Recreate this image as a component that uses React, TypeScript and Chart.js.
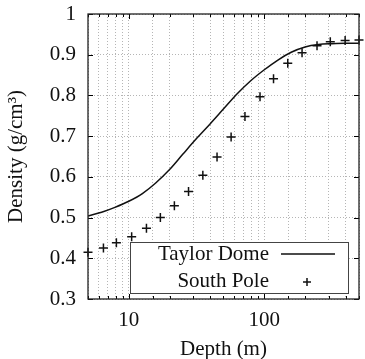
import { useEffect, useRef } from "react";
import { Chart, registerables } from "chart.js";

Chart.register(...registerables);

const seriesLabels = ["Taylor Dome", "South Pole"];
const taylorDepth = [5, 6.3, 7.9, 10, 12.6, 15.8, 20, 25.1, 31.6, 39.8, 50.1, 63.1, 79.4, 100, 126, 158, 200, 251, 316, 398, 500];
const taylorDensity = [0.504, 0.513, 0.525, 0.54, 0.559, 0.585, 0.618, 0.656, 0.694, 0.73, 0.767, 0.804, 0.836, 0.863, 0.887, 0.906, 0.919, 0.925, 0.927, 0.928, 0.928];
const poleDepth = [5, 6.5, 8.1, 10.5, 13.5, 17.1, 21.7, 27.6, 35.2, 44.8, 56.9, 72, 93, 117, 149, 190, 245, 307, 395, 500];
const poleDensity = [0.415, 0.425, 0.438, 0.453, 0.474, 0.5, 0.529, 0.564, 0.604, 0.649, 0.698, 0.748, 0.797, 0.841, 0.879, 0.905, 0.922, 0.932, 0.935, 0.936];
const xTickLabels = [10, 100];
const xMin = 5;
const xMax = 500;
const yMin = 0.3;
const yMax = 1;
const yStep = 0.1;
const xTitle = "Depth (m)";
const yTitle = "Density (g/cm³)";

const FONT = "'Liberation Serif', 'DejaVu Serif', serif";
const FS = 21;

const framePlugin = {
  id: "frameLegend",
  afterDatasetsDraw(chart: any) {
    const { ctx, chartArea, scales } = chart;
    const { left, right, top, bottom } = chartArea;
    const xs = scales.x;
    const ys = scales.y;
    ctx.save();
    ctx.strokeStyle = "#000";
    ctx.lineWidth = 1;
    ctx.beginPath();
    for (const t of xs.ticks) {
      const px = Math.round(xs.getPixelForValue(t.value)) + 0.5;
      const lg = Math.log10(t.value);
      const len = Math.abs(lg - Math.round(lg)) < 1e-9 ? 5 : 3;
      ctx.moveTo(px, bottom);
      ctx.lineTo(px, bottom - len);
      ctx.moveTo(px, top);
      ctx.lineTo(px, top + len);
    }
    for (const t of ys.ticks) {
      const py = Math.round(ys.getPixelForValue(t.value)) + 0.5;
      ctx.moveTo(left, py);
      ctx.lineTo(left + 5, py);
      ctx.moveTo(right, py);
      ctx.lineTo(right - 5, py);
    }
    ctx.stroke();
    ctx.strokeStyle = "#222";
    ctx.lineWidth = 1.3;
    ctx.strokeRect(left, top, right - left, bottom - top);

    // legend
    const bx = right - 229;
    const by = bottom - 57;
    const bw = 218;
    const bh = 51;
    ctx.fillStyle = "#fff";
    ctx.fillRect(bx, by, bw, bh);
    ctx.strokeStyle = "#444";
    ctx.lineWidth = 1;
    ctx.strokeRect(bx + 0.5, by + 0.5, bw, bh);
    ctx.fillStyle = "#111";
    ctx.font = `${FS}px ${FONT}`;
    ctx.textAlign = "right";
    ctx.textBaseline = "middle";
    const r1 = bottom - 45;
    const r2 = bottom - 18;
    ctx.fillText(seriesLabels[0], right - 90, r1);
    ctx.fillText(seriesLabels[1], right - 90, r2);
    ctx.strokeStyle = "#111";
    ctx.lineWidth = 1.5;
    ctx.beginPath();
    ctx.moveTo(right - 78, r1);
    ctx.lineTo(right - 24, r1);
    const cx = right - 52;
    ctx.moveTo(cx - 4, r2 + 1);
    ctx.lineTo(cx + 4, r2 + 1);
    ctx.moveTo(cx, r2 - 3);
    ctx.lineTo(cx, r2 + 5);
    ctx.stroke();
    ctx.restore();
  },
};

export default function App() {
  const ref = useRef<HTMLCanvasElement | null>(null);
  useEffect(() => {
    if (!ref.current) return;
    const chart = new Chart(ref.current, {
      type: "line",
      data: {
        datasets: [
          {
            label: seriesLabels[0],
            data: taylorDepth.map((d, i) => ({ x: d, y: taylorDensity[i] })),
            borderColor: "#111",
            borderWidth: 1.5,
            pointRadius: 0,
            cubicInterpolationMode: "monotone",
            fill: false,
          },
          {
            label: seriesLabels[1],
            data: poleDepth.map((d, i) => ({ x: d, y: poleDensity[i] })),
            showLine: false,
            clip: false,
            pointStyle: "cross",
            pointRadius: 4.5,
            pointBorderWidth: 1.5,
            borderWidth: 1.5,
            borderColor: "#111",
            backgroundColor: "#111",
          },
        ],
      },
      options: {
        responsive: false,
        animation: false,
        devicePixelRatio: 1,
        layout: { padding: { top: 14, right: 3, left: 0, bottom: 0 } },
        plugins: { legend: { display: false }, tooltip: { enabled: false } },
        scales: {
          x: {
            type: "logarithmic",
            min: xMin,
            max: xMax,
            afterFit: (s: any) => {
              s.height = 60;
              s.paddingRight = 0;
              s.paddingLeft = 0;
            },
            grid: { color: "#b5b5b5", lineWidth: 1, drawTicks: false },
            border: { display: false, dash: [1, 2] },
            ticks: {
              autoSkip: false,
              maxRotation: 0,
              padding: 9,
              color: "#111",
              font: { family: FONT, size: FS },
              callback: (v: any) => (xTickLabels.includes(Number(v)) ? String(v) : ""),
            },
            title: {
              display: true,
              text: xTitle,
              color: "#111",
              font: { family: FONT, size: FS, lineHeight: 1 },
              padding: { top: 0, bottom: -1 },
            },
          },
          y: {
            type: "linear",
            min: yMin,
            max: yMax,
            afterFit: (s: any) => {
              s.width = 88;
              s.paddingTop = 0;
              s.paddingBottom = 0;
            },
            grid: { color: "#b5b5b5", lineWidth: 1, drawTicks: false },
            border: { display: false, dash: [1, 2] },
            ticks: {
              stepSize: yStep,
              padding: 12,
              color: "#111",
              font: { family: FONT, size: FS },
              callback: (v: any) => String(Number(Number(v).toFixed(1))),
            },
            title: {
              display: true,
              text: yTitle,
              color: "#111",
              font: { family: FONT, size: FS, lineHeight: 1 },
              padding: { top: 6, bottom: 0 },
            },
          },
        },
      },
      plugins: [framePlugin],
    });
    return () => chart.destroy();
  }, []);
  return (
    <div style={{ position: "absolute", left: 0, top: 0, width: 365, height: 359, background: "#fff" }}>
      <canvas ref={ref} width={365} height={359} />
    </div>
  );
}
